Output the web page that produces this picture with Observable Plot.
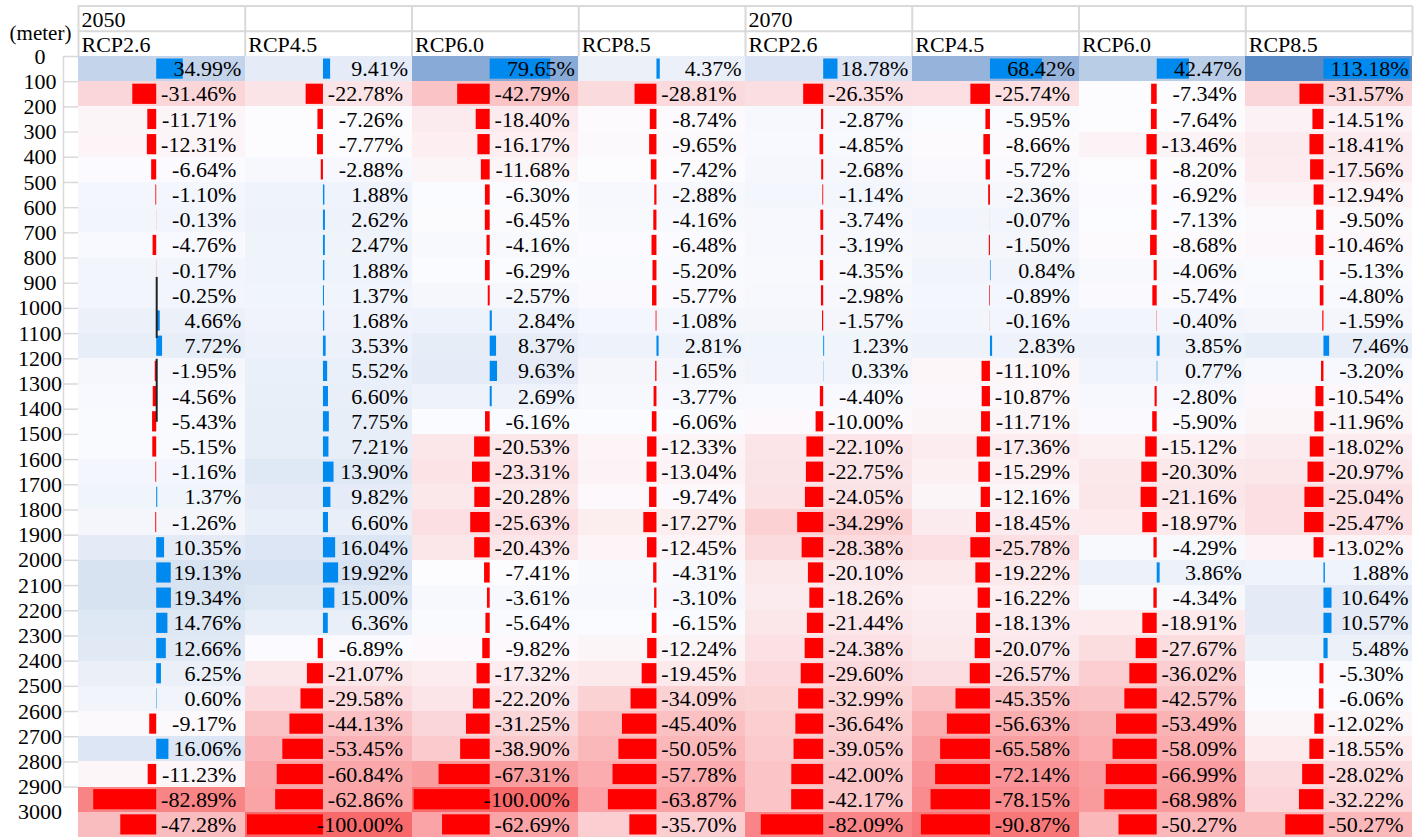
<!DOCTYPE html>
<html>
<head>
<meta charset="utf-8">
<script src="https://cdn.jsdelivr.net/npm/d3@7"></script>
<script src="https://cdn.jsdelivr.net/npm/@observablehq/plot@0.6"></script>
<style>
html, body { margin: 0; padding: 0; background: #fff; overflow: hidden; }
#chart svg { display: block; font-family: "Liberation Serif", "Times New Roman", serif; }
#chart svg text { font-family: "Liberation Serif", "Times New Roman", serif !important; }
</style>
</head>
<body>
<div id="chart"></div>
<script>
// ---------- data ----------
const periods   = ["2050", "", "", "", "2070", "", "", ""];
const scenarios = ["RCP2.6", "RCP4.5", "RCP6.0", "RCP8.5", "RCP2.6", "RCP4.5", "RCP6.0", "RCP8.5"];
const depthLabels = [0, 100, 200, 300, 400, 500, 600, 700, 800, 900, 1000, 1100, 1200, 1300, 1400, 1500,
  1600, 1700, 1800, 1900, 2000, 2100, 2200, 2300, 2400, 2500, 2600, 2700, 2800, 2900, 3000];
const axisTicks = [0, 100, 200, 300, 400, 500, 600, 700, 800, 900, 1000, 1100, 1200, 1300, 1400, 1500,
  1600, 1700, 1800, 1900, 2000, 2100, 2200, 2300, 2400, 2500, 2600, 2700, 2800, 2900];

const s2050_rcp26 = [34.99, -31.46, -11.71, -12.31, -6.64, -1.10, -0.13, -4.76, -0.17, -0.25, 4.66, 7.72, -1.95, -4.56, -5.43, -5.15, -1.16, 1.37, -1.26, 10.35, 19.13, 19.34, 14.76, 12.66, 6.25, 0.60, -9.17, 16.06, -11.23, -82.89, -47.28];
const s2050_rcp45 = [9.41, -22.78, -7.26, -7.77, -2.88, 1.88, 2.62, 2.47, 1.88, 1.37, 1.68, 3.53, 5.52, 6.60, 7.75, 7.21, 13.90, 9.82, 6.60, 16.04, 19.92, 15.00, 6.36, -6.89, -21.07, -29.58, -44.13, -53.45, -60.84, -62.86, -100.00];
const s2050_rcp60 = [79.65, -42.79, -18.40, -16.17, -11.68, -6.30, -6.45, -4.16, -6.29, -2.57, 2.84, 8.37, 9.63, 2.69, -6.16, -20.53, -23.31, -20.28, -25.63, -20.43, -7.41, -3.61, -5.64, -9.82, -17.32, -22.20, -31.25, -38.90, -67.31, -100.00, -62.69];
const s2050_rcp85 = [4.37, -28.81, -8.74, -9.65, -7.42, -2.88, -4.16, -6.48, -5.20, -5.77, -1.08, 2.81, -1.65, -3.77, -6.06, -12.33, -13.04, -9.74, -17.27, -12.45, -4.31, -3.10, -6.15, -12.24, -19.45, -34.09, -45.40, -50.05, -57.78, -63.87, -35.70];
const s2070_rcp26 = [18.78, -26.35, -2.87, -4.85, -2.68, -1.14, -3.74, -3.19, -4.35, -2.98, -1.57, 1.23, 0.33, -4.40, -10.00, -22.10, -22.75, -24.05, -34.29, -28.38, -20.10, -18.26, -21.44, -24.38, -29.60, -32.99, -36.64, -39.05, -42.00, -42.17, -82.09];
const s2070_rcp45 = [68.42, -25.74, -5.95, -8.66, -5.72, -2.36, -0.07, -1.50, 0.84, -0.89, -0.16, 2.83, -11.10, -10.87, -11.71, -17.36, -15.29, -12.16, -18.45, -25.78, -19.22, -16.22, -18.13, -20.07, -26.57, -45.35, -56.63, -65.58, -72.14, -78.15, -90.87];
const s2070_rcp60 = [42.47, -7.34, -7.64, -13.46, -8.20, -6.92, -7.13, -8.68, -4.06, -5.74, -0.40, 3.85, 0.77, -2.80, -5.90, -15.12, -20.30, -21.16, -18.97, -4.29, 3.86, -4.34, -18.91, -27.67, -36.02, -42.57, -53.49, -58.09, -66.99, -68.98, -50.27];
const s2070_rcp85 = [113.18, -31.57, -14.51, -18.41, -17.56, -12.94, -9.50, -10.46, -5.13, -4.80, -1.59, 7.46, -3.20, -10.54, -11.96, -18.02, -20.97, -25.04, -25.47, -13.02, 1.88, 10.64, 10.57, 5.48, -5.30, -6.06, -12.02, -18.55, -28.02, -32.22, -50.27];

// data-bar axis segments seen in the first column (depth ranges, m)
const axisSegments = [{from: 877, to: 1119}, {from: 1202, to: 1452}];

// ---------- layout ----------
const W = 1424, H = 837;
const PXU = 0.76;          // pixels per percent of a data bar
const ZERO0 = 156.2;       // pixel of the bar origin in the first column
const COL0 = 78;           // pixel of the table's left edge
const COLW = 166.75;       // pixel width of a column
const toU = p => (p - ZERO0) / PXU;
const STEP = COLW / PXU;
const LEFT = toU(COL0);
const RIGHT = LEFT + STEP;
const FONT = "Liberation Serif";
const GRID = "#D9D9D9";

const seriesList = [s2050_rcp26, s2050_rcp45, s2050_rcp60, s2050_rcp85, s2070_rcp26, s2070_rcp45, s2070_rcp60, s2070_rcp85];
const cells = seriesList.flatMap((arr, c) => arr.map((v, i) => ({c, depth: depthLabels[i], value: v})));
const allValues = cells.map(d => d.value);
const colIdx = scenarios.map((s, c) => c);
const boundaries = [...colIdx, scenarios.length];
const fmt = v => v.toFixed(2) + "%";

const chart = Plot.plot({
  width: W,
  height: H,
  marginLeft: 0,
  marginRight: 0,
  marginTop: 5.6,
  marginBottom: 0,
  style: {background: "#fff", fontFamily: FONT, overflow: "visible"},
  x: {domain: [toU(0), toU(W)], axis: null},
  y: {domain: [-200, 3100], reverse: true, axis: null},
  color: {
    type: "linear",
    domain: [d3.min(allValues), d3.median(allValues), d3.max(allValues)],
    range: ["#F8696B", "#FCFCFF", "#5A8AC6"],
    interpolate: "rgb"
  },
  marks: [
    // heat-map cell backgrounds
    Plot.rect(cells, {
      x1: d => d.c * STEP + LEFT, x2: d => d.c * STEP + RIGHT,
      y1: d => d.depth, y2: d => d.depth + 100,
      fill: "value", shapeRendering: "crispEdges"
    }),
    // data bars
    Plot.rect(cells.filter(d => d.value < 0), {
      x1: d => d.c * STEP, x2: d => d.c * STEP + d.value,
      y1: d => d.depth, y2: d => d.depth + 100,
      insetTop: 2.5, insetBottom: 2.5, fill: "#FF0000"
    }),
    Plot.rect(cells.filter(d => d.value >= 0), {
      x1: d => d.c * STEP, x2: d => d.c * STEP + d.value,
      y1: d => d.depth, y2: d => d.depth + 100,
      insetTop: 2.5, insetBottom: 2.5, fill: "#008AEF"
    }),
    Plot.ruleX(axisSegments, {x: 0, y1: "from", y2: "to", stroke: "#222", strokeWidth: 2}),
    // value labels
    Plot.text(cells.filter(d => d.value >= 0), {
      x: d => d.c * STEP + RIGHT, y: d => d.depth + 50, text: d => fmt(d.value),
      textAnchor: "end", dx: -4, fontSize: 22, fontFamily: FONT, fill: "#000"
    }),
    Plot.text(cells.filter(d => d.value < 0), {
      x: d => d.c * STEP + RIGHT, y: d => d.depth + 50, text: d => fmt(d.value),
      textAnchor: "end", dx: -9, fontSize: 22, fontFamily: FONT, fill: "#000"
    }),
    // header grid
    Plot.ruleY([-200, -100], {x1: LEFT, x2: (scenarios.length - 1) * STEP + RIGHT, stroke: GRID, strokeWidth: 2}),
    Plot.ruleX(boundaries, {x: c => c * STEP + LEFT, y1: -200, y2: 0, stroke: GRID, strokeWidth: 2}),
    // header texts
    Plot.text(colIdx, {
      x: c => c * STEP + LEFT, y: -150, text: c => periods[c],
      textAnchor: "start", dx: 3, dy: 1.5, fontSize: 22, fontFamily: FONT, fill: "#000"
    }),
    Plot.text(colIdx, {
      x: c => c * STEP + LEFT, y: -50, text: c => scenarios[c],
      textAnchor: "start", dx: 3, dy: 1.5, fontSize: 22, fontFamily: FONT, fill: "#000"
    }),
    // depth axis
    Plot.ruleX([toU(63)], {y1: 0, y2: axisTicks[axisTicks.length - 1], stroke: GRID, strokeWidth: 1.5}),
    Plot.ruleY(axisTicks, {x1: toU(63), x2: toU(COL0), stroke: GRID, strokeWidth: 1.5}),
    Plot.text(depthLabels, {
      x: toU(39.5), y: d => d, text: d => String(d),
      textAnchor: "middle", fontSize: 22, fontFamily: FONT, fill: "#000"
    }),
    Plot.text(["(meter)"], {
      x: toU(40), y: -100, text: d => d, dy: 2,
      textAnchor: "middle", fontSize: 21, fontFamily: FONT, fill: "#000"
    })
  ]
});
document.getElementById("chart").appendChild(chart);
</script>
</body>
</html>
